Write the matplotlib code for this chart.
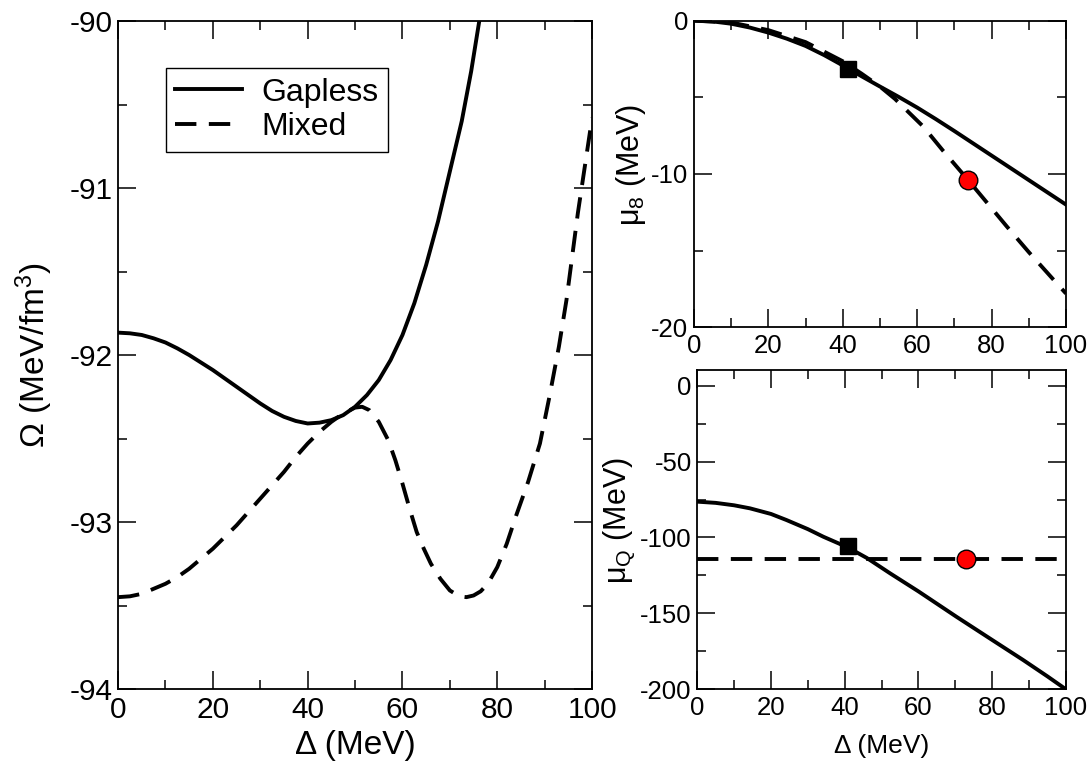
import numpy as np
import matplotlib
matplotlib.use('Agg')
import matplotlib.pyplot as plt
from matplotlib.ticker import MultipleLocator

plt.rcParams['font.family'] = ['Liberation Sans', 'DejaVu Sans']
plt.rcParams['axes.unicode_minus'] = False
plt.rcParams['mathtext.fontset'] = 'custom'
plt.rcParams['mathtext.rm'] = 'Liberation Sans'
plt.rcParams['mathtext.it'] = 'Liberation Sans'

# left panel: Omega vs Delta
delta_gap = [0, 2.5, 5, 7.5, 10, 12.5, 15, 17.5, 20, 22.5, 25, 27.5, 30, 32.5, 35, 37.5, 40,
             42.5, 45, 47.5, 50, 52.5, 55, 57.5, 60, 62.5, 65, 67.5, 70, 72.5, 74.5, 76.2]
omega_gap = [-91.866, -91.87, -91.88, -91.90, -91.925, -91.96, -92.0, -92.045, -92.09, -92.14,
             -92.19, -92.24, -92.29, -92.335, -92.37, -92.395, -92.41, -92.405, -92.39, -92.36,
             -92.31, -92.24, -92.15, -92.03, -91.88, -91.69, -91.46, -91.2, -90.9, -90.6,
             -90.3, -90.0]

delta_mix = [0, 2.5, 5, 7.5, 10, 12.5, 15, 17.5, 20, 22.5, 25, 27.5, 30, 32.5, 35, 37.5, 40,
             42.5, 45, 47.5, 50, 51.5, 53, 55, 57, 58.5, 60, 61.5, 63, 64.5, 66, 68, 70, 72,
             73.5, 75, 76.5, 78, 80, 82, 84, 86.5, 89, 91, 93, 94.6, 97, 100]
omega_mix = [-93.45, -93.445, -93.43, -93.40, -93.37, -93.33, -93.28, -93.22, -93.16, -93.09,
             -93.02, -92.94, -92.86, -92.78, -92.70, -92.61, -92.53, -92.46, -92.40, -92.35,
             -92.315, -92.31, -92.33, -92.40, -92.51, -92.63, -92.77, -92.92, -93.06, -93.16,
             -93.25, -93.34, -93.41, -93.445, -93.45, -93.44, -93.415, -93.37, -93.27, -93.13,
             -92.96, -92.76, -92.53, -92.25, -91.95, -91.67, -91.15, -90.58]

# top right: mu_8
d8 = [0, 5, 10, 15, 20, 25, 30, 35, 40, 45, 50, 55, 60, 65, 70, 75, 80, 85, 90, 95, 100]
mu8_gap = [0, -0.05, -0.2, -0.45, -0.78, -1.18, -1.65, -2.25, -2.92, -3.62, -4.3, -4.97, -5.67,
           -6.42, -7.2, -8.0, -8.8, -9.6, -10.4, -11.2, -12.0]
d8_mix = [0, 10, 20, 30, 40, 45, 50, 54, 61.6, 67, 73.7, 84, 90, 97.5, 100]
mu8_mix = [0, -0.12, -0.62, -1.4, -2.65, -3.45, -4.3, -5.1, -6.9, -8.5, -10.4, -13.4, -15.1, -17.13, -17.8]

# bottom right: mu_Q
dq = [0, 5, 10, 14.3, 20, 24.2, 30, 34.2, 40.8, 46, 52.3, 60, 70.3, 80, 88.4, 95, 100]
muq_gap = [-76.4, -77.2, -78.8, -80.8, -84.5, -88.5, -94.5, -99.5, -106.5, -113.5, -123.6,
           -135.5, -152.2, -167.5, -180.7, -191.5, -200]
dq_mix = [0, 100]
muq_mix = [-114.2, -114.2]

# special points
sq8_x, sq8 = 41.3, -3.17
ci8_x, ci8 = 73.7, -10.39
sqq_x, sqq = 40.8, -105.6
ciq_x, ciq = 72.8, -114.2

fig = plt.figure(figsize=(10.91, 7.62), dpi=100)
ax1 = fig.add_axes([0.1082, 0.0958, 0.4345, 0.8766])
ax2 = fig.add_axes([0.6361, 0.5705, 0.3410, 0.4024])
ax3 = fig.add_axes([0.6391, 0.0954, 0.3379, 0.4184])

lw = 2.8
dash = (5.5, 3.2)


def style(ax, xmaj, xmin, ymaj, ymin, fs):
    ax.xaxis.set_major_locator(MultipleLocator(xmaj))
    ax.xaxis.set_minor_locator(MultipleLocator(xmin))
    ax.yaxis.set_major_locator(MultipleLocator(ymaj))
    ax.yaxis.set_minor_locator(MultipleLocator(ymin))
    ax.tick_params(which='both', direction='in', top=True, right=True, width=1.1)
    ax.tick_params(which='major', length=13, labelsize=fs)
    ax.tick_params(axis='x', which='major', pad=5)
    ax.tick_params(axis='y', which='major', pad=4)
    ax.tick_params(which='minor', length=6.5)
    for s in ax.spines.values():
        s.set_linewidth(1.3)


ax1.plot(delta_gap, omega_gap, color='black', lw=lw, label='Gapless')
ax1.plot(delta_mix, omega_mix, color='black', lw=lw, ls=(0, dash), label='Mixed')
ax1.set_xlim(0, 100)
ax1.set_ylim(-94, -90)
style(ax1, 20, 10, 1, 0.5, 21.5)
ax1.set_xlabel('Δ (MeV)', fontsize=24)
ax1.xaxis.set_label_coords(0.5, -0.062)
ax1.set_ylabel('Ω (MeV/fm$^3$)', fontsize=24)
ax1.yaxis.set_label_coords(-0.133, 0.5)
leg = ax1.legend(loc='upper left', bbox_to_anchor=(0.1006, 0.9296), borderaxespad=0,
                 fontsize=23, frameon=True, fancybox=False, framealpha=1,
                 handlelength=2.1, handletextpad=0.6, borderpad=0.3, labelspacing=0.15)
leg.get_frame().set_edgecolor('black')
leg.get_frame().set_linewidth(1.0)

ax2.plot(d8, mu8_gap, color='black', lw=lw)
ax2.plot(d8_mix, mu8_mix, color='black', lw=lw, ls=(0, dash))
ax2.plot([sq8_x], [sq8], marker='s', ms=11.3, color='black', ls='none')
ax2.plot([ci8_x], [ci8], marker='o', ms=13.4, mfc='red', mec='black', mew=1, ls='none')
ax2.set_xlim(0, 100)
ax2.set_ylim(-20, 0)
style(ax2, 20, 10, 10, 5, 18.5)
ax2.set_ylabel('μ$_8$ (MeV)', fontsize=22)
ax2.yaxis.set_label_coords(-0.124, 0.53)

ax3.plot(dq, muq_gap, color='black', lw=lw)
ax3.plot(dq_mix, muq_mix, color='black', lw=lw, ls=(0, dash))
ax3.plot([sqq_x], [sqq], marker='s', ms=11.3, color='black', ls='none')
ax3.plot([ciq_x], [ciq], marker='o', ms=13.4, mfc='red', mec='black', mew=1, ls='none')
ax3.set_xlim(0, 100)
ax3.set_ylim(-200, 10)
style(ax3, 20, 10, 50, 25, 18.5)
ax3.set_xlabel('Δ (MeV)', fontsize=19)
ax3.xaxis.set_label_coords(0.5, -0.14)
ax3.set_ylabel('μ$_Q$ (MeV)', fontsize=22)
ax3.yaxis.set_label_coords(-0.164, 0.53)

fig.savefig('out.png', dpi=100)
